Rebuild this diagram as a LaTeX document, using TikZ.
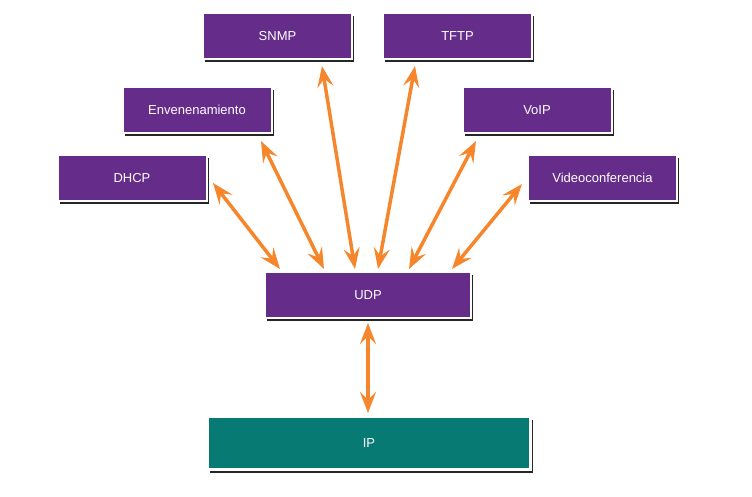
\documentclass[tikz,border=0pt]{standalone}
\usepackage{fontspec}
\setmainfont{Liberation Sans}
\usetikzlibrary{arrows.meta,shadows}
\definecolor{boxpurple}{RGB}{101,45,137}
\definecolor{boxteal}{RGB}{8,122,116}
\definecolor{arroworange}{RGB}{246,134,43}

\begin{document}
\begin{tikzpicture}
[x=1pt,y=-1pt,
  boxdecorate/.style={shape=rectangle,fill=boxpurple,draw=white,line width=2pt,
    minimum width=149pt,minimum height=46pt,inner sep=0pt,text=white,
    font=\fontsize{13}{15}\selectfont,
    drop shadow={shadow xshift=2pt,shadow yshift=-3pt,fill=black,opacity=.85}},%
  arrowdecorate/.style={arrows={Stealth[length=21pt,width=16pt,inset=8pt]-Stealth[length=21pt,width=16pt,inset=8pt]},
    draw=arroworange,fill=arroworange,line width=3.5pt}]
\useasboundingbox (0,0) rectangle (752,497);
%% boxes
\foreach \nodename/\x/\y/\boxtext in {snmp/277.5/36/SNMP, tftp/457.5/36/TFTP,
  env/197/110/Envenenamiento, voip/537/110/VoIP, dhcp/132/178/DHCP,
  video/602.5/178/Videoconferencia}
{
  \node (\nodename) at (\x,\y) [boxdecorate] {\boxtext};
}
\node (udp) at (368,295) [boxdecorate,minimum width=206pt] {UDP};
\node (ip) at (369,443) [boxdecorate,fill=boxteal,line width=3pt,
  minimum width=323pt,minimum height=53pt] {IP};
%% arrows
\foreach \dx/\endnode/\anchor/\ex/\ey in {16/dhcp/east/5.5/-5,
  60/env/south/64/-7, 91/snmp/south/44.5/-6, 114/tftp/south/-42.5/-6,
  145/voip/south/-61/-7, 188/video/west/-5/-6}
{
  \draw[arrowdecorate] ([xshift=\dx pt,yshift=2pt]udp.north west) --
    ([xshift=\ex pt,yshift=\ey pt]\endnode.\anchor);
}
\draw[arrowdecorate,shorten <=4pt,shorten >=2pt] (udp.south) -- (udp.south |- ip.north);
\end{tikzpicture}
\end{document}
